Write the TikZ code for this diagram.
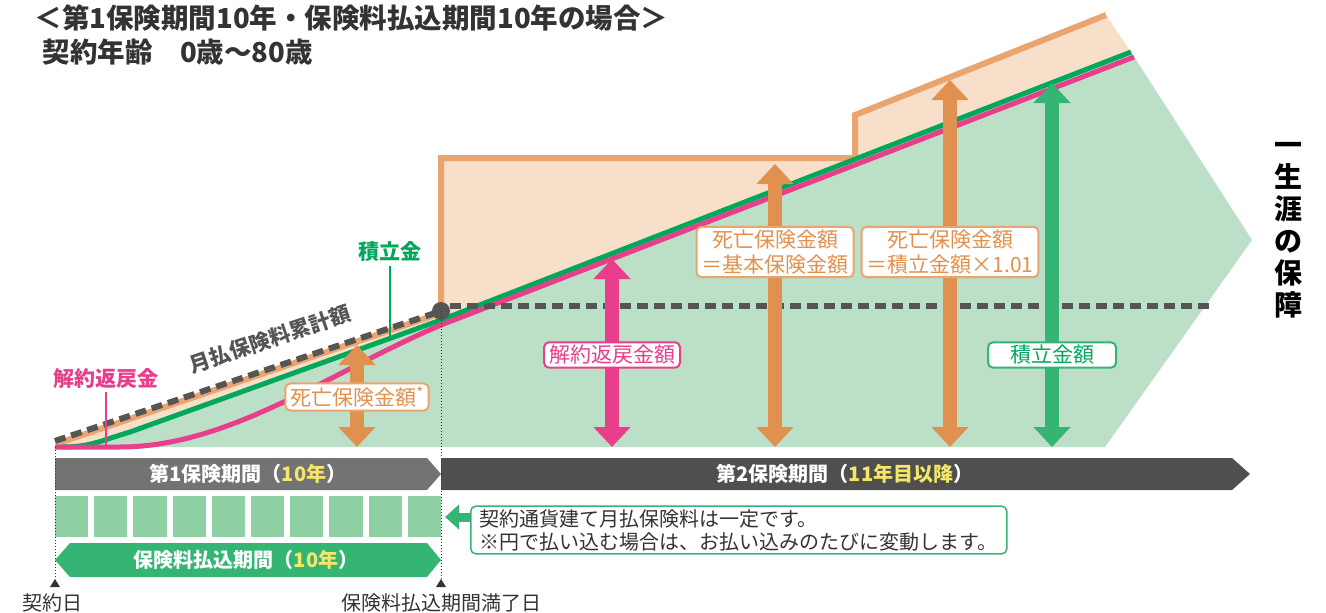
\documentclass[tikz,border=0pt]{standalone}
\usepackage{fontspec}
\setmainfont{Noto Sans CJK JP}
\usetikzlibrary{arrows.meta}
\definecolor{peach}{HTML}{F8DFC9}
\definecolor{mint}{HTML}{BCDFC7}
\definecolor{orangeline}{HTML}{E9A46F}
\definecolor{orangedark}{HTML}{E0914F}
\definecolor{greenline}{HTML}{00A85A}
\definecolor{greenarrow}{HTML}{35B574}
\definecolor{pinkline}{HTML}{E83E8C}
\definecolor{dashgray}{HTML}{555555}
\definecolor{txtgray}{HTML}{333333}
\definecolor{barone}{HTML}{737373}
\definecolor{bartwo}{HTML}{4F4F4F}
\definecolor{paysq}{HTML}{8ECFA3}
\definecolor{yeartxt}{HTML}{F5E66A}
\begin{document}
\begin{tikzpicture}[x=1pt,y=-1pt,
  lbl/.style={font=\fontsize{21}{24}\selectfont\bfseries},
  boxlbl/.style={draw,line width=2pt,fill=white,rounded corners=5pt,
    inner xsep=5pt,inner ysep=3pt,align=center,
    font=\fontsize{21}{25}\selectfont},
  darr/.style={line width=14pt,
    {Triangle[width=36pt,length=20pt]}-{Triangle[width=36pt,length=20pt]}},
  barlbl/.style={text=white,font=\fontsize{20}{24}\selectfont\bfseries},
  caplbl/.style={text=txtgray,font=\fontsize{20}{24}\selectfont},
  notebox/.style={draw=greenarrow,line width=1.5pt,fill=white,rounded corners=5pt,
    align=left,inner xsep=9pt,inner ysep=3pt,text=txtgray,
    font=\fontsize{20}{23}\selectfont},
  ticktri/.style={fill=txtgray}]
  \useasboundingbox (0,0) rectangle (1326,613);

  \node[anchor=west,text=txtgray,font=\fontsize{27.5}{30}\selectfont\bfseries] (title) at (31,18)
    {＜第1保険期間10年・保険料払込期間10年の場合＞};
  \node[anchor=west,text=txtgray,font=\fontsize{27.5}{30}\selectfont\bfseries] (age) at (39,52)
    {契約年齢　0歳～80歳};

  \fill[peach] (55,447) -- (441,313) -- (441,158) -- (855,158) -- (855,115)
    -- (1106,15) -- (1131,52) -- (441,320) -- (130,432)
    .. controls (100,441) and (90,447) .. (62,447) -- cycle;
  \fill[mint] (55,447) -- (62,447) .. controls (90,447) and (100,441) .. (130,432)
    -- (441,320) -- (1131,52) -- (1252,240) -- (1105,447) -- cycle;

  \draw[orangeline,line width=6pt] (56,444) -- (441,313) -- (441,158) -- (855,158)
    -- (855,115) -- (1106,15);
  \draw[greenline,line width=5pt] (62,447) .. controls (90,447) and (100,441) .. (130,432)
    -- (441,320) -- (1131,52);
  \draw[pinkline,line width=5pt] (55,447) -- (120,447)
    .. controls (230,447) and (330,372) .. (441,325) -- (1134,57);

  \coordinate (dot) at (441,311);
  \draw[dashgray,line width=6pt,dash pattern=on 11pt off 6pt] (55,441) -- (dot);
  \draw[dashgray,line width=6pt,dash pattern=on 11pt off 6pt] (450,306) -- (1210,306);
  \fill[dashgray] (dot) circle (9);

  \node[lbl,text=dashgray,rotate=18.6,inner sep=1pt] (premlbl) at (270,339) {月払保険料累計額};
  \node[lbl,text=greenline] (fundlbl) at (390,252) {積立金};
  \coordinate (fundpt) at (390,337);
  \draw[greenline,line width=1.5pt] (fundlbl.south) -- (fundpt);
  \node[lbl,text=pinkline] (surrlbl) at (106,378) {解約返戻金};
  \coordinate (surrpt) at (106,446);
  \draw[pinkline,line width=1.5pt] (surrlbl.south) -- (surrpt);

  \coordinate (d1top) at (357,345);  \coordinate (d1bot) at (357,447);
  \coordinate (s1top) at (612,259);  \coordinate (s1bot) at (612,447);
  \coordinate (d2top) at (775,164);  \coordinate (d2bot) at (775,447);
  \coordinate (d3top) at (950,80);   \coordinate (d3bot) at (950,447);
  \coordinate (f1top) at (1052,83);  \coordinate (f1bot) at (1052,447);
  \draw[darr,orangedark] (d1top) -- (d1bot);
  \draw[darr,pinkline] (s1top) -- (s1bot);
  \draw[darr,orangedark] (d2top) -- (d2bot);
  \draw[darr,orangedark] (d3top) -- (d3bot);
  \draw[darr,greenarrow] (f1top) -- (f1bot);

  \node[boxlbl,draw=orangeline,text=orangedark] (death1) at (357,397)
    {死亡保険金額\textsuperscript{*}};
  \node[boxlbl,draw=pinkline,text=pinkline] (surrbox) at (612,355) {解約返戻金額};
  \node[boxlbl,draw=orangeline,text=orangedark] (death2) at (775,252)
    {死亡保険金額\\＝基本保険金額};
  \node[boxlbl,draw=orangeline,text=orangedark] (death3) at (950,252)
    {死亡保険金額\\＝積立金額×1.01};
  \node[boxlbl,draw=greenarrow,text=greenline,inner xsep=22pt] (fundbox) at (1052,355) {積立金額};

  \node[text=black,align=center,font=\fontsize{28}{32}\selectfont\bfseries] (life) at (1288,230)
    {一\\生\\涯\\の\\保\\障};

  \fill[barone] (55,458) -- (427,458) -- (441,474) -- (427,490) -- (55,490) -- cycle;
  \fill[bartwo] (441,458) -- (1232,458) -- (1250,474) -- (1232,490) -- (441,490) -- cycle;
  \node[barlbl] (period1) at (248,474) {第1保険期間（\textcolor{yeartxt}{10年}）};
  \node[barlbl] (period2) at (845,474) {第2保険期間（\textcolor{yeartxt}{11年目以降}）};

  \foreach \i in {0,...,9}
    \fill[paysq] ({55+39.2*\i},496) rectangle ++(33.2,41);

  \fill[greenarrow] (55,560) -- (70,543) -- (427,543) -- (441,560) -- (427,577)
    -- (70,577) -- cycle;
  \node[barlbl] (payperiod) at (246,560) {保険料払込期間（\textcolor{yeartxt}{10年}）};

  \draw[txtgray,dotted,line width=1pt] (55,447) -- (55,579);
  \draw[txtgray,dotted,line width=1pt] (dot) -- (441,579);
  \fill[ticktri] (50,587) -- (60,587) -- (55,579) -- cycle;
  \fill[ticktri] (436,587) -- (446,587) -- (441,579) -- cycle;
  \node[caplbl] (start) at (53,603) {契約日};
  \node[caplbl] (end) at (441,603) {保険料払込期間満了日};

  \node[notebox,anchor=west] (note) at (470,530)
    {契約通貨建て月払保険料は一定です。\\※円で払い込む場合は、お払い込みのたびに変動します。};
  \coordinate (notetip) at (445,517);
  \draw[greenarrow,line width=9pt,-{Triangle[width=24pt,length=14pt]}]
    (note.west |- notetip) -- (notetip);
\end{tikzpicture}
\end{document}
